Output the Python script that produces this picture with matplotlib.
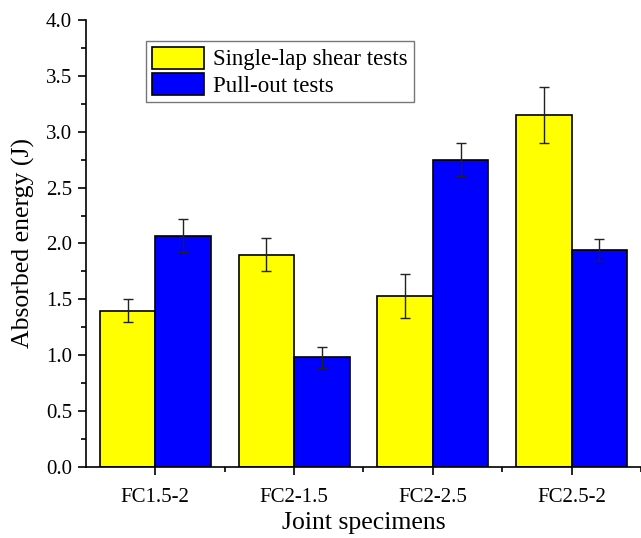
import numpy as np
import matplotlib.pyplot as plt
from matplotlib.ticker import MultipleLocator, AutoMinorLocator, FixedLocator

plt.rcParams['font.family'] = ['Liberation Serif', 'DejaVu Serif']

# dados
especimes = ['FC1.5-2', 'FC2-1.5', 'FC2-2.5', 'FC2.5-2']
cisalhamento = [1.40, 1.90, 1.53, 3.15]
cisalhamento_err = [0.10, 0.15, 0.20, 0.25]
arrancamento = [2.07, 0.98, 2.75, 1.94]
arrancamento_err = [0.15, 0.09, 0.15, 0.10]

x = np.arange(1, len(especimes) + 1)
largura = 0.4

fig = plt.figure(figsize=(6.41, 5.38), dpi=100)
ax = fig.add_axes([0.134, 0.132, 0.866, 0.831])

erro_kw = dict(ecolor='#222222', elinewidth=1.0, capsize=3.5, capthick=1.0)
ax.bar(x - largura / 2, cisalhamento, largura, yerr=cisalhamento_err,
       color='#ffff00', edgecolor='black', linewidth=1.2,
       label='Single-lap shear tests', error_kw=erro_kw)
ax.bar(x + largura / 2, arrancamento, largura, yerr=arrancamento_err,
       color='#0000ff', edgecolor='black', linewidth=1.2,
       label='Pull-out tests', error_kw=erro_kw)

ax.set_xlim(0.5, 4.5)
ax.set_ylim(0, 4.0)
ax.set_xticks(x)
ax.set_xticklabels(especimes)
ax.xaxis.set_minor_locator(FixedLocator([1.5, 2.5, 3.5, 4.5]))
ax.yaxis.set_major_locator(MultipleLocator(0.5))
ax.yaxis.set_minor_locator(AutoMinorLocator(2))
ax.yaxis.set_major_formatter(plt.FormatStrFormatter('%.1f'))

for lado in ['top', 'right']:
    ax.spines[lado].set_visible(False)
for lado in ['left', 'bottom']:
    ax.spines[lado].set_linewidth(1.2)

ax.tick_params(axis='both', which='major', length=6, width=1.2,
               labelsize=15, direction='out', pad=4)
ax.tick_params(axis='x', which='major', pad=9)
ax.tick_params(axis='both', which='minor', length=3.5, width=1.2,
               direction='out')

ax.set_xlabel('Joint specimens', fontsize=18.5, labelpad=4)
ax.set_ylabel('Absorbed energy (J)', fontsize=18.5, labelpad=8)

leg = ax.legend(loc='upper left', bbox_to_anchor=(0.108, 0.953),
                borderaxespad=0, fontsize=16.5, handlelength=2.3,
                handleheight=1.1, labelspacing=0.1, handletextpad=0.4,
                borderpad=0.25, fancybox=False, framealpha=1)
leg.get_frame().set_edgecolor('#777777')
leg.get_frame().set_linewidth(1.0)

plt.savefig('out.png', dpi=100)
